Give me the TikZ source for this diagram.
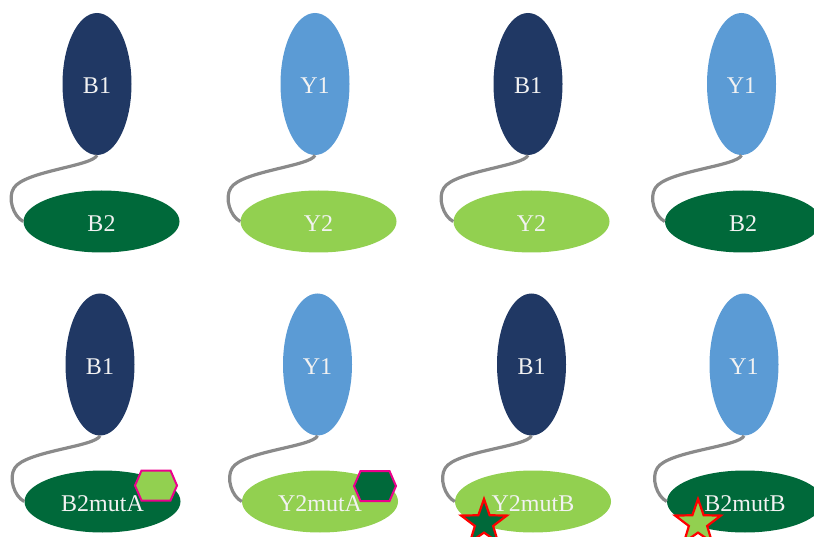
\documentclass[tikz,border=0pt]{standalone}
\usepackage{fontspec}
\setmainfont{Liberation Serif}
\usetikzlibrary{shapes.geometric,calc}
\definecolor{navy}{HTML}{203864}
\definecolor{lblue}{HTML}{5B9BD5}
\definecolor{dgreen}{HTML}{00693A}
\definecolor{lgreen}{HTML}{92D050}
\definecolor{linkgray}{HTML}{8A8A8A}
\definecolor{txt}{HTML}{F2F2F2}
\newcommand\linkvh[2]{\draw[link] (#1.south) .. controls ($(#1.south)+(-4,11)$) and ($(#2.west)+(1,-50.5)$) .. ($(#2.west)+(-9.5,-33.5)$) .. controls ($(#2.west)+(-16,-23.5)$) and ($(#2.west)+(-10,-5)$) .. (#2.west);}
\begin{document}
\begin{tikzpicture}[x=1pt,y=-1pt,
  lbl/.style={font=\fontsize{24}{26}\selectfont, text=txt, inner sep=0pt, text height=20pt, text depth=0pt},
  vert/.style={ellipse, lbl, minimum width=69pt, minimum height=142pt},
  horiz/.style={ellipse, lbl, minimum width=156pt, minimum height=62pt},
  link/.style={draw=linkgray, line width=3.2pt},
  hex/.style={draw=magenta, line width=2pt},
  mstar/.style={star, star points=5, star point ratio=2.5, minimum size=48pt, inner sep=0pt, draw=red, line width=2.2pt}]
\useasboundingbox (0,0) rectangle (814,537);
% row 1
\node[vert, fill=navy]    (v1) at (97,84) {B1};
\node[horiz, fill=dgreen] (h1) at (101.5,221.5) {B2};
\node[vert, fill=lblue]   (v2) at (315,84) {Y1};
\node[horiz, fill=lgreen] (h2) at (318.5,221.5) {Y2};
\node[vert, fill=navy]    (v3) at (528,84) {B1};
\node[horiz, fill=lgreen] (h3) at (531.5,221.5) {Y2};
\node[vert, fill=lblue]   (v4) at (741.5,84) {Y1};
\node[horiz, fill=dgreen] (h4) at (743,221.5) {B2};
% row 2
\node[vert, fill=navy]    (v5) at (100,364.5) {B1};
\node[horiz, fill=dgreen] (h5) at (102.5,501.5) {B2mutA};
\node[vert, fill=lblue]   (v6) at (317.5,364.5) {Y1};
\node[horiz, fill=lgreen] (h6) at (320,501.5) {Y2mutA};
\node[vert, fill=navy]    (v7) at (531.5,364.5) {B1};
\node[horiz, fill=lgreen] (h7) at (533,501.5) {Y2mutB};
\node[vert, fill=lblue]   (v8) at (744,364.5) {Y1};
\node[horiz, fill=dgreen] (h8) at (745,501.5) {B2mutB};
% connectors
\linkvh{v1}{h1}
\linkvh{v2}{h2}
\linkvh{v3}{h3}
\linkvh{v4}{h4}
\linkvh{v5}{h5}
\linkvh{v6}{h6}
\linkvh{v7}{h7}
\linkvh{v8}{h8}
% mutation marks
\coordinate (x5) at (156,485.5);
\coordinate (x6) at (375,486);
\draw[hex, fill=lgreen] (x5) +(-21,0) -- +(-14.5,-15) -- +(14.5,-15) -- +(21,0) -- +(14.5,15) -- +(-14.5,15) -- cycle;
\draw[hex, fill=dgreen] (x6) +(-21,0) -- +(-14.5,-15) -- +(14.5,-15) -- +(21,0) -- +(14.5,15) -- +(-14.5,15) -- cycle;
\node[mstar, fill=dgreen] (s7) at (484,523) {};
\node[mstar, fill=lgreen] (s8) at (698,523) {};
\end{tikzpicture}
\end{document}
